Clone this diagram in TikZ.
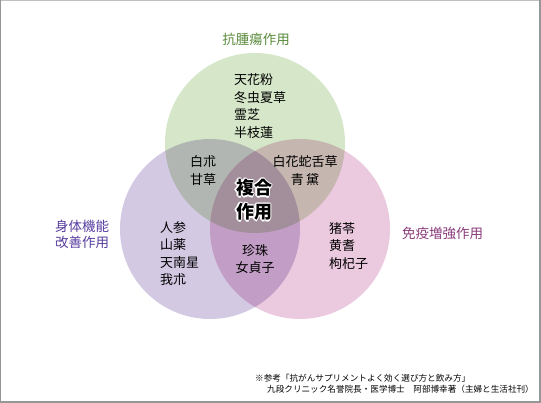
\documentclass[tikz,border=0pt]{standalone}
\usepackage{fontspec}
\setmainfont{Noto Sans CJK JP}
\usepackage{xcolor}
\usetikzlibrary{calc}
\definecolor{antigreen}{RGB}{214,231,201}
\definecolor{bodypurple}{RGB}{211,201,227}
\definecolor{immunepink}{RGB}{235,201,223}
\definecolor{antitext}{RGB}{90,140,60}
\definecolor{bodytext}{RGB}{88,62,160}
\definecolor{immunetext}{RGB}{139,60,124}
\definecolor{framegray}{RGB}{150,150,150}

\tikzset{
  herb/.style={inner sep=0pt, align=left, font=\fontsize{13}{17.5}\selectfont},
  effect/.style={inner sep=0pt, align=left, font=\fontsize{13.5}{15.5}\selectfont},
  core/.style={inner sep=0pt, align=center, font=\fontsize{18}{24}\selectfont\bfseries}
}

\begin{document}
\begin{tikzpicture}[x=1pt,y=-1pt]
    \useasboundingbox (0,0) rectangle (541,403);
    \fill[white] (0,0) rectangle (541,403);

    % Frame
    \draw[framegray!60, line width=1pt] (0,0.5) -- (541,0.5);
    \draw[framegray, line width=1pt] (0.5,0) -- (0.5,403);
    \draw[framegray, line width=2pt] (540,0) -- (540,402) -- (0,402);

    % Three circles
    \begin{scope}[blend group=multiply]
        \fill[antigreen]  (255,143) circle (90);
        \fill[bodypurple] (210,229) circle (90);
        \fill[immunepink] (300,229) circle (90);
    \end{scope}

    % Effect titles
    \node[effect, text=antitext] (anti) at (256,39) {抗腫瘍作用};
    \node[effect, text=bodytext, anchor=west] (body) at (55,234.5) {身体機能\\改善作用};
    \node[effect, text=immunetext, anchor=west] (immune) at (402,233) {免疫増強作用};

    % Herbs
    \node[herb, anchor=west] (antiherb) at (234,106) {天花粉\\冬虫夏草\\霊芝\\半枝蓮};
    \node[herb, anchor=west] (antibody) at (190,170.5) {白朮\\甘草};
    \node[herb, align=center] (antiimmune) at (305,170.5) {白花蛇舌草\\青\,黛};
    \node[herb, anchor=west] (bodyherb) at (160,253.5) {人参\\山薬\\天南星\\我朮};
    \node[herb, align=center] (bodyimmune) at (255,259) {珍珠\\女貞子};
    \node[herb, anchor=west] (immuneherb) at (329,246) {猪苓\\黄耆\\枸杞子};

    % Center with white halo
    \foreach \a in {0,45,...,315}
        \node[core, text=white] at ($(254,200)+(\a:1.3)$) {複合\\作用};
    \node[core] (combined) at (254,200) {複合\\作用};

    % Source note
    \node[inner sep=0pt, align=left, anchor=north west, font=\fontsize{8.6}{11}\selectfont] (source) at (255,374)
        {※参考「抗がんサプリメントよく効く選び方と飲み方」\\\hspace*{12pt}九段クリニック名誉院長・医学博士　阿部博幸著（主婦と生活社刊）};
\end{tikzpicture}
\end{document}
